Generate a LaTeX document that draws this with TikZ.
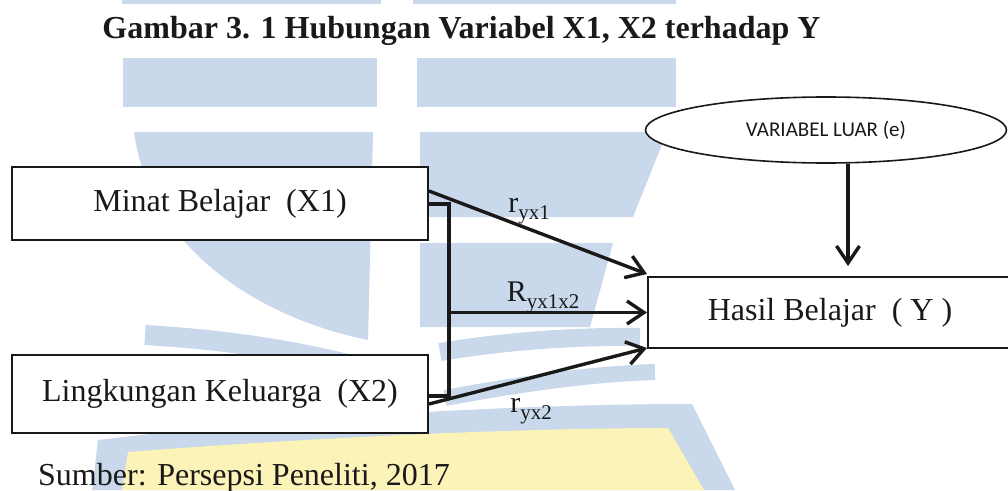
\documentclass[tikz,border=0pt]{standalone}
\usepackage{fontspec}
\setmainfont{Liberation Serif}
\newfontfamily\labelsans{Carlito}
\usetikzlibrary{arrows.meta,shapes.geometric}
\definecolor{wmblue}{RGB}{201,216,234}
\definecolor{wmyellow}{RGB}{251,243,183}
\definecolor{ink}{RGB}{25,25,25}
\begin{document}
\begin{tikzpicture}[x=1pt,y=-1pt,
  box/.style={draw=ink, line width=2pt, fill=white, rectangle, inner sep=0pt,
    font=\fontsize{32}{36}\selectfont, text=ink},
  conn/.style={draw=ink, line width=3.4pt, line join=miter},
  arr/.style={conn, -{Straight Barb[length=17pt,width=23pt]}},
  coef/.style={font=\fontsize{30}{32}\selectfont, text=ink, inner sep=0pt},
  wm/.style={fill=wmblue, draw=none},
]
\useasboundingbox (0,0) rectangle (1008,490);
\begin{scope}
\clip (0,0) rectangle (1008,490);
\fill[white] (0,0) rectangle (1008,490);

% faint logo in the background
\fill[wm] (122,0) rectangle (381,4);
\fill[wm] (413,0) rectangle (676,4);
\fill[wm] (123,58) rectangle (377,107);
\fill[wm] (417,58) rectangle (676,107);
\fill[wm] (134,132) -- (373,132) -- (368,340)
  .. controls (260,318) and (150,250) .. (134,132) -- cycle;
\fill[wm] (420,132) -- (667,132) -- (633,217) -- (420,217) -- cycle;
\fill[wm] (420,243) -- (613,243) -- (590,327) -- (420,327) -- cycle;
\draw[wmblue, line width=20pt] (145,335) .. controls (230,340) and (320,352) .. (420,385);
\draw[wmblue, line width=18pt] (440,352) .. controls (500,342) and (570,336) .. (640,337);
\draw[wmblue, line width=16pt] (445,398) .. controls (520,384) and (590,374) .. (655,372);
\fill[wm] (92,490) -- (98,440) .. controls (260,420) and (500,404) .. (692,404)
  -- (735,490) -- cycle;
\fill[wmyellow] (122,490) -- (128,452) .. controls (280,440) and (500,428) .. (668,428)
  -- (704,490) -- cycle;

% title and source line
\node[font=\fontsize{32}{36}\selectfont\bfseries, text=ink, anchor=base, inner sep=0pt]
  (title) at (461.5,38) {Gambar 3. 1 Hubungan Variabel X1, X2 terhadap Y};
\node[font=\fontsize{32}{36}\selectfont, text=ink, anchor=base west, inner sep=0pt]
  (src) at (38,485) {Sumber: Persepsi Peneliti, 2017};

% variables
\node[box, minimum width=416pt, minimum height=73pt] (x1) at (220,203.5) {Minat Belajar~ (X1)};
\node[box, minimum width=416pt, minimum height=78pt] (x2) at (220,394) {Lingkungan Keluarga~ (X2)};
\node[box, minimum width=364pt, minimum height=71pt] (y) at (830,312.5) {Hasil Belajar~ ( Y )};
\node[ellipse, draw=ink, line width=1.6pt, fill=white, inner sep=0pt,
  minimum width=361pt, minimum height=66pt, text=ink,
  font=\labelsans\fontsize{21}{23}\selectfont] (e) at (826,130) {VARIABEL LUAR (e)};

% paths
\draw[arr] ([yshift=-25pt]x1.north east) -- ([yshift=2pt]y.north west);
\draw[conn] ([yshift=-38pt]x1.north east) -- ++(20,0) |- ([yshift=-42pt]x2.north east);
\path ([xshift=20pt]x1.east |- y.west) coordinate (j);
\draw[arr] (j) -- (y.west);
\draw[arr] ([yshift=-50pt]x2.north east) -- ([yshift=1pt]y.south west);
\draw[arr] ([xshift=18pt]y.north |- e.south) -- ([xshift=18pt,yshift=10pt]y.north);

% path coefficients
\node[coef] (r1) at (529,211) {r\raisebox{-7pt}{\fontsize{21}{21}\selectfont yx1}};
\node[coef] (r12) at (543,297) {R\raisebox{-7pt}{\fontsize{21}{21}\selectfont yx1x2}};
\node[coef] (r2) at (531,411) {r\raisebox{-7pt}{\fontsize{21}{21}\selectfont yx2}};
\end{scope}
\end{tikzpicture}
\end{document}
